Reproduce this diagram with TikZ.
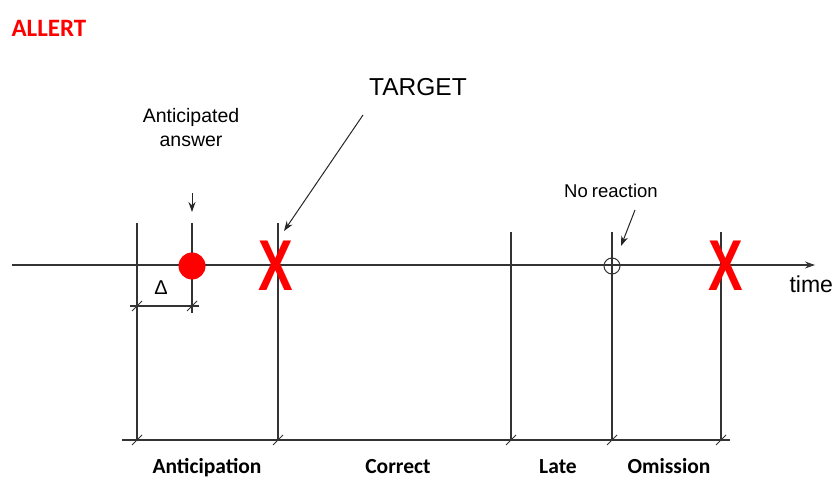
\documentclass[tikz,border=0pt]{standalone}
\usepackage{fontspec}
\setmainfont{Liberation Sans}
\newfontfamily\calibri{Carlito}
\usetikzlibrary{arrows.meta}

\tikzset{
    axisline/.style={line width=1.2pt, black!80},
    pointer/.style={line width=1pt, black!85, -{Stealth[length=10pt,width=7pt]}},
    slash/.style={line width=0.9pt, black!80},
    phase/.style={anchor=base, font=\calibri\bfseries\fontsize{21.5}{24}\selectfont},
    cross/.style={red, inner sep=0pt, xscale=0.72, font=\bfseries\fontsize{72}{72}\selectfont}
}

\begin{document}
\begin{tikzpicture}[x=1pt,y=-1pt]
    \useasboundingbox (0,0) rectangle (833,478);

    % Title
    \node[anchor=base west, red, font=\calibri\bfseries\fontsize{25}{28}\selectfont] (title) at (8,37) {ALLERT};

    % Time axis
    \coordinate (axisstart) at (12,265);
    \coordinate (axisend) at (815,265);
    \draw[axisline, -{Stealth[length=10pt,width=7pt]}] (axisstart) -- (axisend);
    \node[anchor=base west, font=\fontsize{23}{26}\selectfont] (time) at (786,293) {time};

    % Vertical limits of the phases
    \foreach \name/\x/\top in {vant/137/223, vtgt/278/223, vlate/511/232, vom/612/232, vend/721/232}
    {
        \coordinate (\name top) at (\x,\top);
        \coordinate (\name bot) at (\x,440);
        \draw[axisline] (\name top) -- (\name bot);
        \draw[slash] ([shift={(-5,5)}]\name bot) -- ([shift={(5,-5)}]\name bot);
    }

    % Base line
    \coordinate (baseleft) at (122,440);
    \coordinate (baseright) at (730,440);
    \draw[axisline] (baseleft) -- (baseright);

    % Phase labels
    \node[phase] (anticipation) at (207,473) {Anticipation};
    \node[phase] (correct) at (398,473) {Correct};
    \node[phase] (late) at (558,473) {Late};
    \node[phase] (omission) at (669,473) {Omission};

    % Anticipated answer
    \coordinate (dottop) at (192,223);
    \coordinate (dotbot) at (192,313);
    \draw[axisline] (dottop) -- (dotbot);
    \node[circle, fill=red, minimum size=27pt, inner sep=0pt] (dot) at (192,266) {};
    \node[align=center, font=\fontsize{19.5}{24}\selectfont] (answer) at (191,128) {Anticipated\\answer};
    \coordinate (anstail) at (192,193);
    \coordinate (anstip) at (192,212);
    \draw[pointer] (anstail) -- (anstip);

    % Delta
    \coordinate (deltaleft) at (130,306);
    \coordinate (deltaright) at (199,306);
    \draw[axisline] (deltaleft) -- (deltaright);
    \draw[slash] (132,311) -- (142,301);
    \draw[slash] (187,311) -- (197,301);
    \node[anchor=base, font=\fontsize{20}{22}\selectfont] (delta) at (161,295) {Δ};

    % Target
    \node[cross] (target) at (276,266) {X};
    \node[anchor=base, font=\fontsize{24.5}{28}\selectfont] (targetlabel) at (418,96) {TARGET};
    \coordinate (tgttail) at (363,115);
    \coordinate (tgttip) at (284,231);
    \draw[pointer] (tgttail) -- (tgttip);

    % No reaction
    \node[circle, draw, line width=1pt, black!80, minimum size=16pt, inner sep=0pt] (noreact) at (612,266) {};
    \node[anchor=base, font=\fontsize{18.5}{22}\selectfont] (noreactlabel) at (611,198) {No\hspace{-1pt} reaction};
    \coordinate (nrtail) at (635,210);
    \coordinate (nrtip) at (621,246);
    \draw[pointer] (nrtail) -- (nrtip);

    % Omission limit
    \node[cross] (omit) at (726,266) {X};
\end{tikzpicture}
\end{document}
